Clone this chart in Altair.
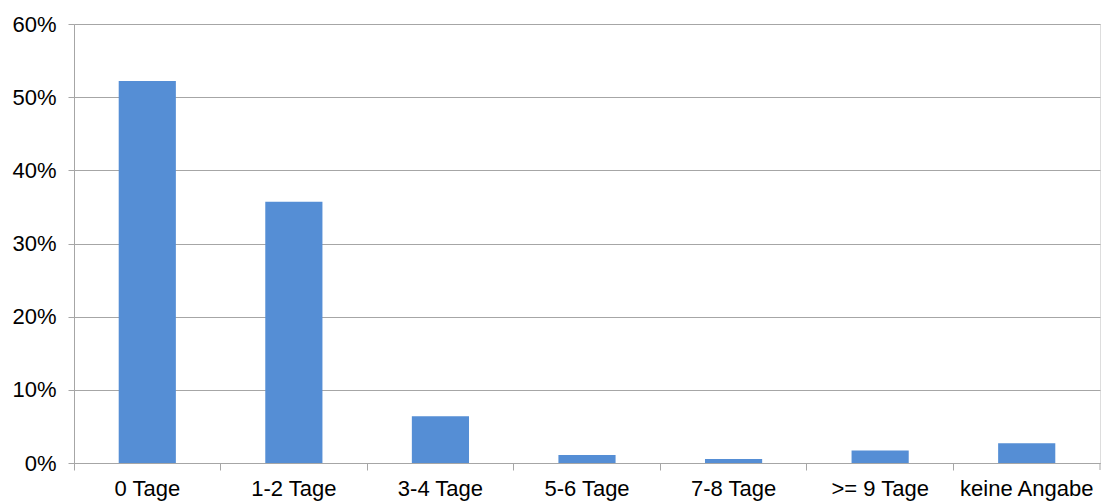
import altair as alt
import pandas as pd

# Share of respondents by number of days
categories = ["0 Tage", "1-2 Tage", "3-4 Tage", "5-6 Tage", "7-8 Tage", ">= 9 Tage", "keine Angabe"]
shares = [0.522, 0.357, 0.064, 0.011, 0.0055, 0.017, 0.027]

df = pd.DataFrame({"kategorie": categories, "anteil": shares})

W, H = 1026, 439
GRID = "#A6A6A6"
FONT = "Liberation Sans"

x = alt.X(
    "kategorie:N",
    sort=categories,
    title=None,
    scale=alt.Scale(paddingInner=0, paddingOuter=0),
    axis=alt.Axis(
        bandPosition=0,
        labelAngle=0,
        labelFontSize=22,
        labelColor="black",
        labelFont=FONT,
        labelPadding=8,
        tickSize=7,
        tickColor=GRID,
        domainColor=GRID,
        grid=False,
    ),
)

y = alt.Y(
    "anteil:Q",
    title=None,
    scale=alt.Scale(domain=[0, 0.6], nice=False),
    axis=alt.Axis(
        format=".0%",
        values=[0, 0.1, 0.2, 0.3, 0.4, 0.5, 0.6],
        labelFontSize=22,
        labelColor="black",
        labelFont=FONT,
        labelPadding=12,
        tickSize=6,
        tickColor=GRID,
        domainColor=GRID,
        gridColor=GRID,
        gridWidth=1.2,
    ),
)

bars = alt.Chart(df).mark_bar(
    color="#558ED5", width=alt.RelativeBandSize(0.39)
).encode(x=x, y=y)

# closing tick at the right end of the category axis
end_tick = alt.Chart(pd.DataFrame({"k": [0]})).mark_rule(color=GRID).encode(
    x=alt.value(W), y=alt.value(H), y2=alt.value(H + 7)
)

chart = (
    alt.layer(bars, end_tick)
    .properties(
        width=W,
        height=H,
        autosize=alt.AutoSizeParams(type="none"),
        padding={"left": 74, "top": 24, "right": 1, "bottom": 39},
    )
    .configure_view(stroke=None)
    .configure(background="white")
)

chart.save("out.html", embed_options={"renderer": "svg", "actions": False})
